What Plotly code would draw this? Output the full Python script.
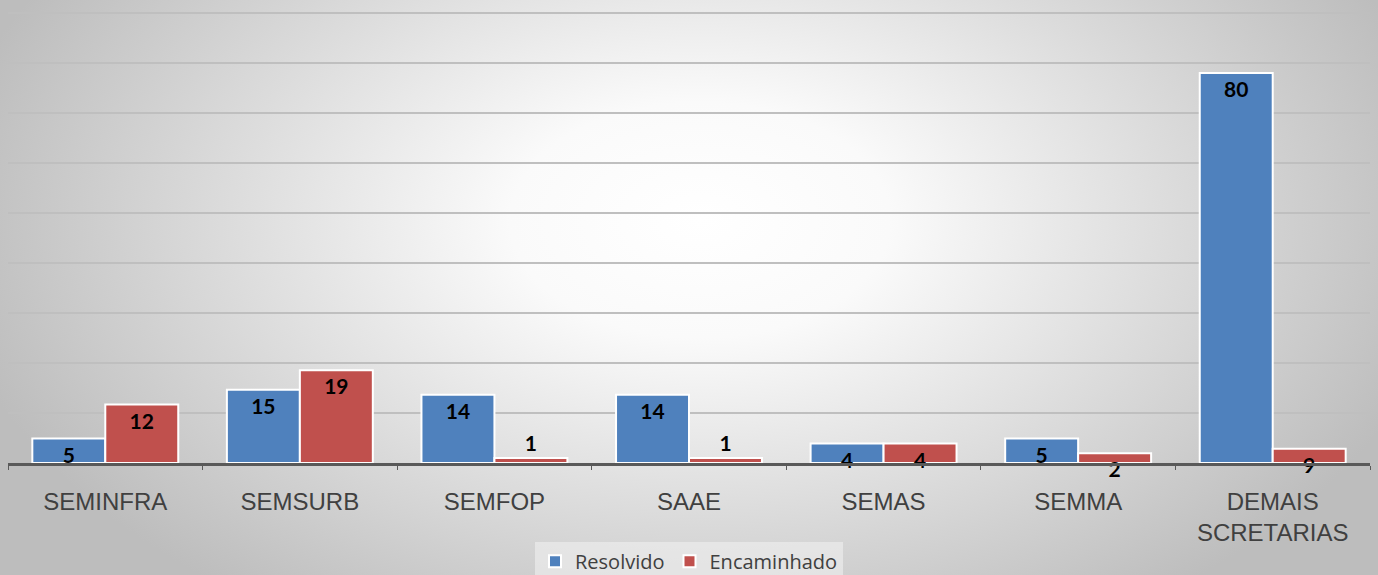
import base64
import plotly.graph_objects as go

categories = ["SEMINFRA", "SEMSURB", "SEMFOP", "SAAE", "SEMAS", "SEMMA", "DEMAIS<br>SCRETARIAS"]
resolvido = [5, 15, 14, 14, 4, 5, 80]
encaminhado = [12, 19, 1, 1, 4, 2, 2.9]          # bar heights as drawn
resolvido_labels = ["5", "15", "14", "14", "4", "5", "80"]
encaminhado_labels = ["12", "19", "1", "1", "4", "2", "9"]
series_names = ["Resolvido", "Encaminhado"]

W, H = 1378, 575
svg = f'''<svg xmlns="http://www.w3.org/2000/svg" width="{W}" height="{H}" viewBox="0 0 {W} {H}" preserveAspectRatio="none">
<defs><radialGradient id="g" gradientUnits="userSpaceOnUse" cx="700" cy="220" r="760" gradientTransform="translate(700 220) scale(1 0.62) translate(-700 -220)">
<stop offset="0" stop-color="#ffffff"/><stop offset="0.25" stop-color="#fafafa"/><stop offset="1" stop-color="#bdbdbd"/></radialGradient></defs>
<rect width="{W}" height="{H}" fill="url(#g)"/></svg>'''
src = "data:image/svg+xml;base64," + base64.b64encode(svg.encode()).decode()

label_font = dict(family="Lato", size=21, color="black", weight="bold")

def positions(vals):
    return ["outside" if v <= 1 else "inside" for v in vals]

fig = go.Figure()
fig.add_trace(go.Bar(x=categories, y=resolvido, name=series_names[0],
                     marker=dict(color="#4f81bd", line=dict(color="white", width=2)),
                     text=resolvido_labels, textposition=positions(resolvido), insidetextanchor="end",
                     constraintext="none", textangle=0, cliponaxis=False,
                     textfont=label_font, outsidetextfont=label_font, insidetextfont=label_font))
fig.add_trace(go.Bar(x=categories, y=encaminhado, name=series_names[1],
                     marker=dict(color="#c0504d", line=dict(color="white", width=2)),
                     text=encaminhado_labels, textposition=positions(encaminhado), insidetextanchor="end",
                     constraintext="none", textangle=0, cliponaxis=False,
                     textfont=label_font, outsidetextfont=label_font, insidetextfont=label_font))

step = 10.26
fig.update_layout(
    width=W, height=H,
    margin=dict(l=8, r=8, t=0, b=112, autoexpand=False),
    paper_bgcolor="rgba(0,0,0,0)", plot_bgcolor="rgba(0,0,0,0)",
    barmode="group", bargap=0.25, bargroupgap=0,
    uniformtext=dict(minsize=21, mode="show"),
    images=[dict(source=src, xref="paper", yref="paper", x=-8/1362, y=1, sizex=W/1362, sizey=H/463,
                 xanchor="left", yanchor="top", sizing="stretch", layer="below")],
    legend=dict(orientation="h", x=0.5, xanchor="center", y=-0.212, yanchor="middle",
                bgcolor="rgba(240,240,240,0.6)", font=dict(family="Open Sans", size=20, color="#404040"),
                itemwidth=30, traceorder="normal"),
    showlegend=True,
)
fig.update_xaxes(showline=True, linecolor="#595959", linewidth=3, ticks="outside", tickson="boundaries",
                 ticklen=4, tickcolor="#595959", tickfont=dict(family="Liberation Sans", size=24, color="#404040"),
                 ticklabelstandoff=15, showgrid=False)
fig.update_yaxes(range=[0, 94.97], tickvals=[step * k for k in range(1, 10)], showticklabels=False,
                 gridcolor="#bfbfbf", gridwidth=2, zeroline=False)

fig.write_html("out.html", config={"displayModeBar": False},
               post_script="document.body.style.margin='0';document.body.style.overflow='hidden';")
